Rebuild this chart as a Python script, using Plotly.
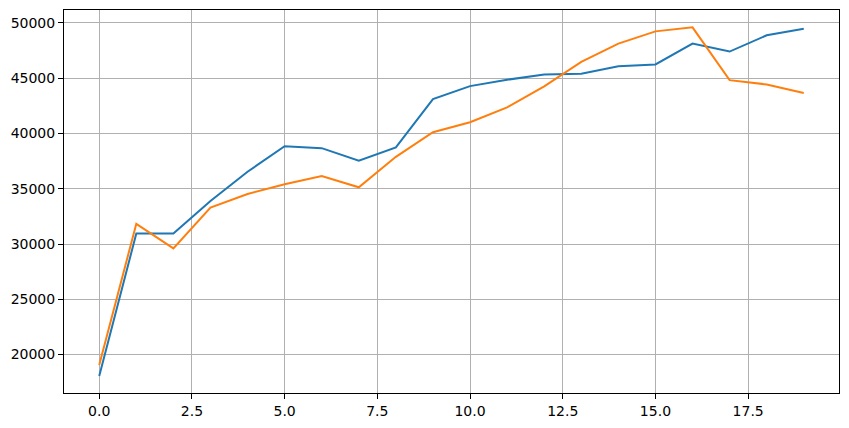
import plotly.graph_objects as go

x_values = list(range(20))
series_blue = [18072, 30950, 30950, 33900, 36540, 38856, 38676, 37532, 38739, 43117,
               44288, 44865, 45342, 45405, 46090, 46250, 48135, 47414, 48883, 49486]
series_orange = [19063, 31829, 29604, 33297, 34532, 35405, 36153, 35135, 37892, 40117,
                 41018, 42369, 44261, 46486, 48135, 49243, 49604, 44829, 44441, 43658]

fig = go.Figure()
fig.add_trace(go.Scatter(x=x_values, y=series_blue, mode="lines",
                         line=dict(color="#1f77b4", width=2), showlegend=False))
fig.add_trace(go.Scatter(x=x_values, y=series_orange, mode="lines",
                         line=dict(color="#ff7f0e", width=2), showlegend=False))

axis_common = dict(
    showline=True, linecolor="black", linewidth=1, mirror=True,
    showgrid=True, gridcolor="#b0b0b0", gridwidth=1,
    ticks="outside", ticklen=5, tickwidth=1, tickcolor="black",
    zeroline=False,
    tickfont=dict(family="DejaVu Sans", size=14, color="black"),
)

fig.update_xaxes(range=[-0.95, 19.95], tick0=0, dtick=2.5, tickformat=".1f", **axis_common)
fig.update_yaxes(range=[16525, 51175], tick0=0, dtick=5000, tickformat="d", **axis_common)

fig.update_layout(
    width=849, height=428,
    margin=dict(l=64, r=10, t=9, b=34),
    paper_bgcolor="white", plot_bgcolor="white",
)

fig.write_html("out.html", config={"displayModeBar": False},
               post_script="document.body.style.margin='0';document.body.style.padding='0';")
